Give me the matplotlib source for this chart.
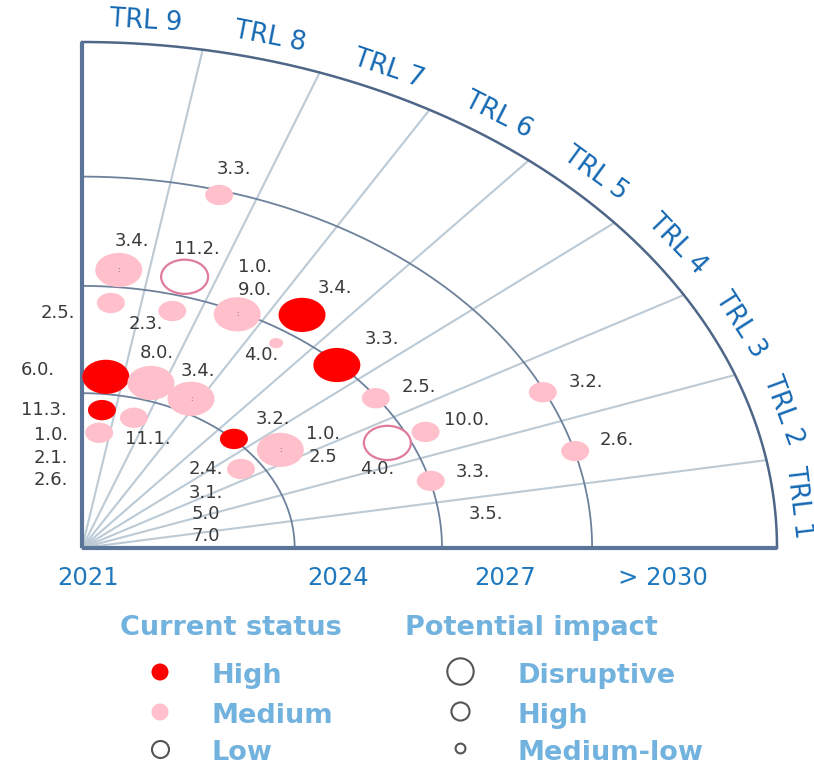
import numpy as np
import matplotlib
matplotlib.use("Agg")
import matplotlib.pyplot as plt
from matplotlib.patches import Circle

# 配色
RED = "#ff0000"
PINK = "#ffc0cb"
LOW_EDGE = "#e07b9b"
TRL_BLUE = "#1569b3"
LEGEND_BLUE = "#72b2de"
TEXT_GRAY = "#3a3a3a"

plt.rcParams.update({
    "font.family": ["DejaVu Sans"],
    "font.size": 13,
})

# ---------------------------------------------------------
# Data: TRL position (angle), time horizon (radius, 0..1 of outer ring)
# ---------------------------------------------------------
labels = ["3.3.", "3.4.", "11.2.", "2.5.", "2.3.", "1.0.\n9.0.", "3.4.", "4.0.",
          "3.3.", "6.0.", "8.0.", "3.4.", "11.3.", "11.1.", "1.0.", "3.2.",
          "1.0.\n2.5", "2.4.", "2.5.", "4.0.", "10.0.", "3.3.", "3.2.", "2.6."]
trl = [7.92, 8.95, 7.96, 9.01, 7.95, 6.92, 6.05, 6.04,
       4.96, 8.92, 7.81, 6.70, 8.90, 7.88, 8.88, 4.96,
       3.92, 3.93, 4.00, 3.03, 2.99, 1.98, 2.99, 2.01]
horizon = [0.725, 0.552, 0.556, 0.486, 0.486, 0.513, 0.559, 0.492,
           0.515, 0.340, 0.341, 0.334, 0.274, 0.268, 0.229, 0.307,
           0.345, 0.277, 0.516, 0.486, 0.545, 0.519, 0.731, 0.735]
status = ["Medium", "Medium", "Low", "Medium", "Medium", "Medium", "High", "Medium",
          "High", "High", "Medium", "Medium", "High", "Medium", "Medium", "High",
          "Medium", "Medium", "Medium", "Low", "Medium", "Medium", "Medium", "Medium"]
impact = ["High", "Disruptive", "Disruptive", "High", "High", "Disruptive", "Disruptive", "Medium-low",
          "Disruptive", "Disruptive", "Disruptive", "Disruptive", "High", "High", "High", "High",
          "Disruptive", "High", "High", "Disruptive", "High", "High", "High", "High"]

# labels without a bubble (axes units)
extra_labels = ["2.1.", "2.6.", "3.1.", "5.0", "7.0", "3.5."]
extra_u = [-0.045, -0.045, 0.178, 0.178, 0.178, 0.581]
extra_v = [0.178, 0.134, 0.109, 0.067, 0.024, 0.067]

trl_names = [f"TRL {k}" for k in range(1, 10)]
year_labels = ["2021", "2024", "2027", "> 2030"]
year_pos = [0.009, 0.368, 0.609, 0.836]
ring_radii = [0.306, 0.518, 0.734]

# ---------------------------------------------------------
# Layout / style
# ---------------------------------------------------------
label_offsets = [(15, 26), (13, 29), (12, 28), (-53, -10), (-26, -13), (18, 36), (33, 27), (-15, -12),
                 (45, 26), (-68, 7), (6, 30), (7, 28), (-58, 0), (14, -21), (-48, -2), (39, 20),
                 (43, 4), (-35, 0), (43, 11), (-10, -26), (41, 12), (42, 9), (43, 10), (42, 11)]
center_dots = {1, 5, 11, 16}
impact_radius = {"Disruptive": 0.0338, "High": 0.0201, "Medium-low": 0.0101}
status_face = {"High": RED, "Medium": PINK, "Low": "white"}

W, H = 814, 766
OX, OY, RX, RY = 82, 548, 695, 506

fig = plt.figure(figsize=(W / 100, H / 100), dpi=100)
ax = fig.add_axes([OX / W, (H - OY) / H, RX / W, RY / H])
ax.set_xlim(0, 1)
ax.set_ylim(0, 1)
ax.axis("off")

# grid
t = np.linspace(0, np.pi / 2, 300)
for r in ring_radii:
    ax.plot(r * np.cos(t), r * np.sin(t), color="#6d819b", lw=1.3, zorder=1, clip_on=False)
for ang in range(10, 90, 10):
    a = np.deg2rad(ang)
    ax.plot([0, np.cos(a)], [0, np.sin(a)], color="#bccad5", lw=1.5, zorder=0.5, clip_on=False)
ax.plot(np.cos(t), np.sin(t), color="#4e6687", lw=1.8, zorder=1, clip_on=False)
ax.plot([0, 0], [0, 1], color="#5b7599", lw=3, zorder=1, clip_on=False, solid_capstyle="butt")
ax.plot([0, 1], [0, 0], color="#5b7599", lw=3, zorder=1, clip_on=False, solid_capstyle="butt")

# bubbles
for i, lab in enumerate(labels):
    a = np.deg2rad((trl[i] - 0.5) * 10)
    x, y = horizon[i] * np.cos(a), horizon[i] * np.sin(a)
    rad = impact_radius[impact[i]]
    if status[i] == "Low":
        c = Circle((x, y), rad, facecolor="white", edgecolor=LOW_EDGE, lw=1.6, zorder=3)
    else:
        c = Circle((x, y), rad, facecolor=status_face[status[i]], edgecolor="none", zorder=3)
    ax.add_patch(c)
    if i in center_dots:
        ax.text(x, y, ":", fontsize=5, color="#555555", ha="center", va="center", zorder=4)
    ax.annotate(lab, (x, y), xytext=label_offsets[i], textcoords="offset pixels",
                ha="center", va="center", color=TEXT_GRAY, fontsize=13,
                linespacing=1.35, zorder=5, annotation_clip=False)

for lab, u, v in zip(extra_labels, extra_u, extra_v):
    ax.text(u, v, lab, ha="center", va="center", color=TEXT_GRAY, fontsize=13, clip_on=False)

# TRL labels along the outer arc
for k, name in enumerate(trl_names, start=1):
    th = np.deg2rad((k - 0.5) * 10)
    rot = np.degrees(np.arctan2(RY * np.cos(th), -RX * np.sin(th))) - 180
    rr = 1.034 if k == 1 else 1.045
    ax.text(rr * np.cos(th), rr * np.sin(th), name, rotation=rot, rotation_mode="anchor",
            ha="center", va="center", color=TRL_BLUE, fontsize=18.5, clip_on=False)

for lab, u in zip(year_labels, year_pos):
    ax.text(u, -0.059, lab, ha="center", va="center", color="#1e78be", fontsize=17.5, clip_on=False)

# legend
lax = fig.add_axes([0, 0, 1, 1], zorder=-1)
lax.set_xlim(0, W)
lax.set_ylim(H, 0)
lax.axis("off")

lax.text(231, 628, "Current status", ha="center", va="center", color=LEGEND_BLUE,
         fontsize=19.5, fontweight="bold")
lax.text(531, 628, "Potential impact", ha="center", va="center", color=LEGEND_BLUE,
         fontsize=19.5, fontweight="bold")

rows_y = [676, 716, 753]
status_items = [("High", RED, "none"), ("Medium", PINK, "none"), ("Low", "white", "#555555")]
for (name, fc, ec), yy in zip(status_items, rows_y):
    lax.scatter([160], [yy - 4], s=150, facecolor=fc, edgecolor=ec, linewidth=1.5)
    lax.text(212, yy, name, ha="left", va="center", color=LEGEND_BLUE, fontsize=19.5, fontweight="bold")

impact_items = [("Disruptive", 360), ("High", 170), ("Medium-low", 50)]
for (name, s), yy in zip(impact_items, rows_y):
    lax.scatter([460], [yy - 5], s=s, facecolor="white", edgecolor="#555555", linewidth=1.5)
    lax.text(517, yy, name, ha="left", va="center", color=LEGEND_BLUE, fontsize=19.5, fontweight="bold")

fig.savefig("out.png", dpi=100)
